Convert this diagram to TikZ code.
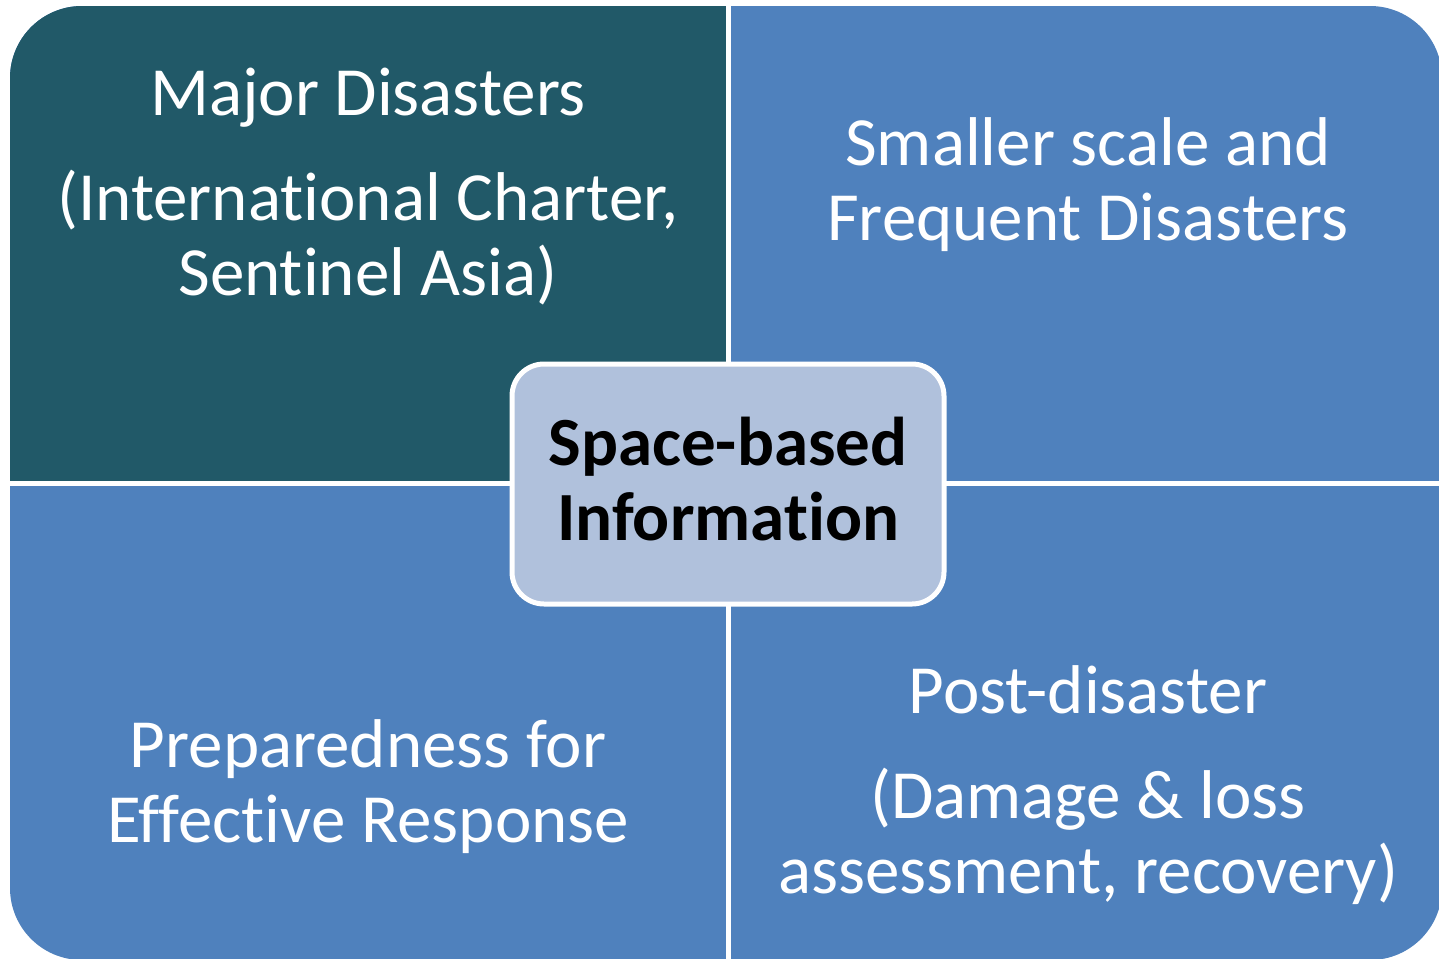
\documentclass[tikz,border=0pt]{standalone}
\usepackage{fontspec}
\setmainfont[Ligatures={NoCommon}]{Carlito}
\definecolor{teal1}{HTML}{215968}
\definecolor{blue1}{HTML}{4F81BD}
\definecolor{light1}{HTML}{B0C1DC}
\begin{document}
\begin{tikzpicture}[x=0.5pt,y=-0.5pt,
  quadtext/.style={text=white, align=center, inner sep=0pt, anchor=base,
    font=\fontsize{34.5}{37.5}\selectfont},
  centerbox/.style={draw=white, line width=2.5pt, fill=light1, rounded corners=16pt,
    minimum width=216pt, minimum height=120pt, inner sep=0pt},
  centertext/.style={align=center, inner sep=0pt, anchor=base,
    font=\fontsize{34.5}{37.5}\selectfont\bfseries},
  gap/.style={white, line width=2.5pt}]
\useasboundingbox (0,0) rectangle (1439,958);
\clip (0,0) rectangle (1439,958);
% outer rounded panel
\fill[blue1, rounded corners=36pt] (10,6) rectangle (1442,960);
\begin{scope}
  \clip[rounded corners=36pt] (10,6) rectangle (1442,960);
  \fill[teal1] (0,0) rectangle (728.2,483.2);
\end{scope}
% white gaps
\draw[gap] (728.2,0) -- (728.2,960);
\draw[gap] (0,483.2) -- (1442,483.2);
% texts (anchored at the baseline of the last line)
\node[quadtext] (tl) at (368,295) {Major Disasters\\[15pt](International Charter,\\Sentinel Asia)};
\node[quadtext] (tr) at (1088,240) {Smaller scale and\\Frequent Disasters};
\node[quadtext] (bl) at (368,842) {Preparedness for\\Effective Response};
\node[quadtext] (br) at (1088,893) {Post-disaster\\[15pt](Damage \& loss\\assessment, recovery)};
% centre
\node[centerbox] (c) at (728,484) {};
\node[centertext] (ct) at (728,540) {Space-based\\Information};
\end{tikzpicture}
\end{document}
